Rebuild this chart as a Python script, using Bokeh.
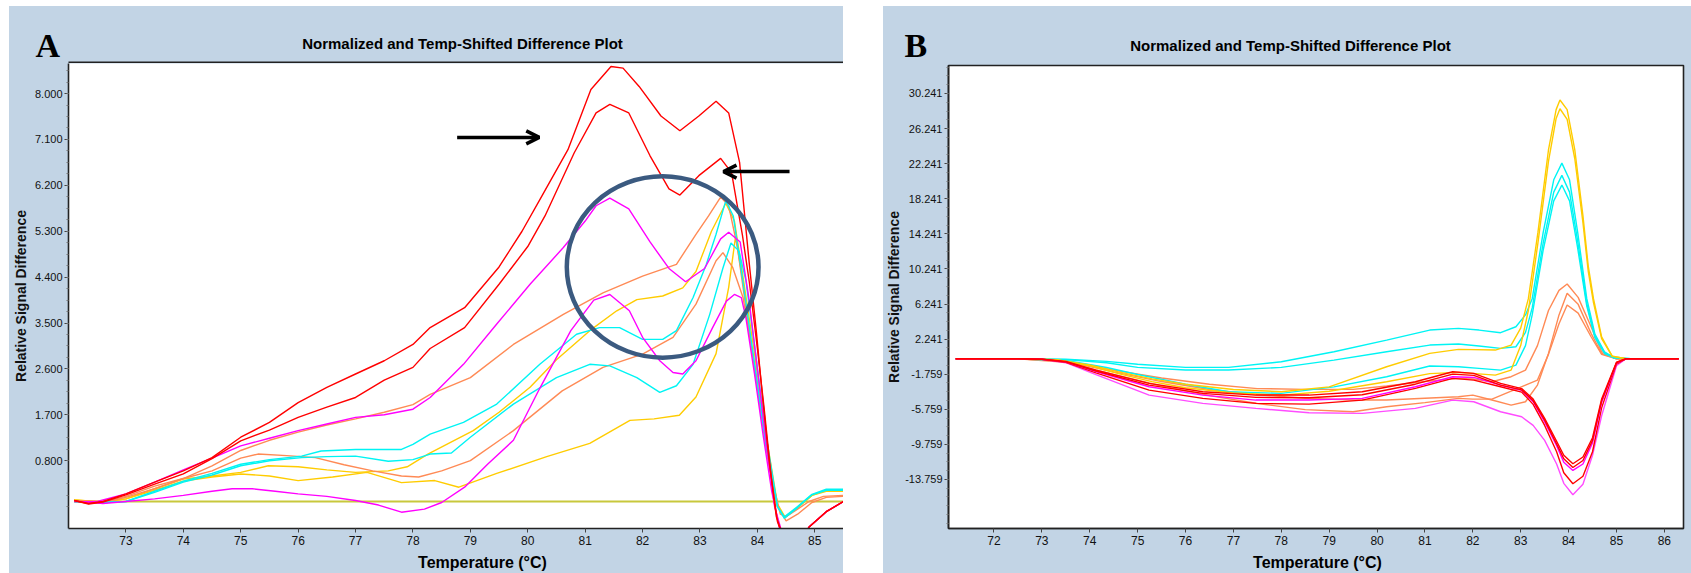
from bokeh.plotting import figure
from bokeh.layouts import row, column
from bokeh.models import (Spacer, FixedTicker, PrintfTickFormatter, Range1d, Arrow, OpenHead)
from bokeh.core.properties import value
from bokeh.embed import file_html
from bokeh.resources import INLINE

TITLE = "Normalized and Temp-Shifted Difference Plot"
XLABEL = "Temperature (°C)"
YLABEL = "Relative Signal Difference"

# ---------------- Panel A data ----------------
A_XTICKS = [73, 74, 75, 76, 77, 78, 79, 80, 81, 82, 83, 84, 85]
A_YTICKS = [0.8, 1.7, 2.6, 3.5, 4.4, 5.3, 6.2, 7.1, 8.0]

A_BASE_X = [72.1, 85.5]
A_BASE_Y = [0.0, 0.0]

A_R1_X = [72.1, 72.35, 72.6, 73.0, 73.5, 74.0, 74.5, 75.0, 75.5, 76.0, 76.5, 77.0, 77.5, 78.0, 78.3, 78.9,
          79.5, 79.9, 80.25, 80.7, 81.1, 81.45, 81.66, 81.94, 82.32, 82.65, 82.98, 83.28, 83.5, 83.69,
          83.86, 83.98, 84.09, 84.21, 84.33, 84.45, 84.6, 84.8, 84.9, 85.2, 85.5]
A_R1_Y = [0.02, -0.04, 0.0, 0.15, 0.38, 0.60, 0.86, 1.26, 1.55, 1.94, 2.24, 2.50, 2.76, 3.08, 3.41, 3.80,
          4.6, 5.3, 6.0, 6.9, 8.08, 8.53, 8.5, 8.14, 7.56, 7.27, 7.56, 7.85, 7.62, 6.65,
          4.65, 3.35, 2.04, 0.74, -0.3, -0.7, -0.85, -0.7, -0.5, -0.2, 0.0]

A_R2_X = [72.1, 72.35, 72.6, 73.0, 73.5, 74.0, 74.5, 75.0, 75.5, 76.0, 76.5, 77.0, 77.5, 78.0, 78.3, 78.9,
          79.5, 80.0, 80.3, 80.81, 81.19, 81.43, 81.76, 82.13, 82.46, 82.65, 82.98, 83.36, 83.55, 83.74,
          83.86, 84.0, 84.12, 84.24, 84.35, 84.45, 84.6, 84.8, 84.9, 85.2, 85.5]
A_R2_Y = [0.02, -0.05, -0.01, 0.13, 0.34, 0.54, 0.84, 1.19, 1.40, 1.65, 1.85, 2.04, 2.38, 2.63, 3.0, 3.41,
          4.26, 5.0, 5.6, 6.84, 7.62, 7.79, 7.62, 6.78, 6.13, 6.01, 6.39, 6.73, 6.45, 5.22,
          4.3, 3.0, 1.8, 0.5, -0.4, -0.7, -0.85, -0.7, -0.5, -0.2, 0.0]

A_M1_X = [72.1, 72.5, 73.0, 73.5, 74.0, 74.5, 75.0, 75.5, 76.0, 76.5, 77.0, 77.5, 78.0, 78.3, 78.88, 79.46,
          80.04, 80.62, 81.0, 81.19, 81.43, 81.76, 82.13, 82.46, 82.75, 83.08, 83.36, 83.5, 83.7, 83.85,
          84.0, 84.15, 84.3, 84.45, 84.6, 84.8, 84.9, 85.2, 85.5]
A_M1_Y = [0.0, 0.0, 0.15, 0.38, 0.62, 0.85, 1.09, 1.24, 1.39, 1.52, 1.65, 1.70, 1.81, 2.04, 2.69, 3.48,
          4.26, 4.98, 5.5, 5.80, 5.95, 5.74, 5.09, 4.57, 4.31, 4.57, 5.15, 5.28, 5.09, 4.0,
          2.6, 1.2, -0.1, -0.7, -0.85, -0.7, -0.5, -0.2, 0.0]

A_M2_X = [72.2, 72.6, 73.0, 73.5, 74.0, 74.5, 74.85, 75.2, 75.6, 76.0, 76.5, 77.0, 77.4, 77.8, 78.2, 78.5,
          78.9, 79.3, 79.75, 80.2, 80.75, 81.15, 81.43, 81.77, 82.0, 82.3, 82.53, 82.7, 82.93, 83.22,
          83.46, 83.6, 83.72, 83.8, 83.95, 84.1, 84.25, 84.4, 84.6, 84.8, 84.9, 85.2, 85.5]
A_M2_Y = [0.0, -0.04, 0.0, 0.05, 0.12, 0.2, 0.25, 0.25, 0.2, 0.15, 0.1, 0.02, -0.07, -0.21, -0.15, -0.02,
          0.28, 0.73, 1.2, 2.2, 3.35, 3.95, 4.06, 3.74, 3.22, 2.76, 2.53, 2.5, 2.76, 3.41,
          3.93, 4.06, 4.0, 3.6, 2.5, 1.3, 0.2, -0.6, -0.85, -0.7, -0.5, -0.2, 0.0]

A_O1_X = [72.1, 72.6, 73.0, 73.5, 74.0, 74.5, 75.0, 75.5, 76.0, 76.5, 77.0, 77.5, 78.0, 78.3, 79.0, 79.75,
          80.62, 81.31, 82.0, 82.59, 82.93, 83.15, 83.36, 83.5, 83.65, 83.8, 84.0, 84.2, 84.4, 84.5,
          84.7, 84.9, 85.15, 85.5]
A_O1_Y = [0.0, -0.02, 0.1, 0.3, 0.45, 0.7, 1.0, 1.2, 1.36, 1.5, 1.62, 1.75, 1.9, 2.1, 2.43, 3.08,
          3.67, 4.09, 4.42, 4.65, 5.24, 5.6, 5.97, 5.8, 5.0, 3.8, 2.2, 0.7, -0.25, -0.3,
          -0.15, 0.0, 0.1, 0.12]

A_O2_X = [72.1, 72.6, 73.0, 73.5, 74.0, 74.5, 75.0, 75.3, 75.8, 76.3, 76.8, 77.3, 77.8, 78.1, 78.5, 79.0,
          79.75, 80.6, 81.31, 82.0, 82.53, 82.93, 83.28, 83.4, 83.57, 83.75, 83.95, 84.15, 84.35, 84.5,
          84.7, 84.95, 85.2, 85.5]
A_O2_Y = [0.0, -0.02, 0.08, 0.25, 0.45, 0.6, 0.85, 0.93, 0.9, 0.86, 0.72, 0.6, 0.5, 0.48, 0.6, 0.8,
          1.39, 2.17, 2.63, 2.89, 3.22, 3.87, 4.72, 4.88, 4.59, 4.0, 2.7, 1.2, -0.1, -0.38,
          -0.25, -0.02, 0.08, 0.1]

A_Y1_X = [72.1, 72.6, 73.0, 73.5, 74.0, 74.5, 75.0, 75.48, 76.0, 76.5, 77.0, 77.57, 77.9, 78.26, 79.05, 79.5,
          80.04, 80.5, 81.08, 81.55, 81.9, 82.35, 82.7, 82.93, 83.2, 83.45, 83.6, 83.75, 83.95, 84.15,
          84.35, 84.48, 84.7, 84.95, 85.2, 85.5]
A_Y1_Y = [0.03, -0.01, 0.05, 0.25, 0.44, 0.5, 0.57, 0.70, 0.68, 0.62, 0.57, 0.60, 0.68, 0.93, 1.39, 1.75,
          2.24, 2.78, 3.35, 3.74, 3.96, 4.03, 4.19, 4.51, 5.30, 5.85, 5.5, 4.4, 2.9, 1.3,
          -0.05, -0.3, -0.12, 0.12, 0.22, 0.22]

A_Y2_X = [72.1, 72.6, 73.0, 73.5, 74.0, 74.5, 75.0, 75.5, 76.0, 76.6, 77.2, 77.8, 78.38, 78.8, 79.46, 80.33,
          81.08, 81.78, 82.2, 82.64, 82.93, 83.28, 83.5, 83.62, 83.75, 83.95, 84.15, 84.35, 84.48, 84.7,
          84.95, 85.2, 85.5]
A_Y2_Y = [0.03, -0.01, 0.05, 0.22, 0.40, 0.48, 0.54, 0.50, 0.41, 0.48, 0.57, 0.37, 0.41, 0.28, 0.55, 0.88,
          1.14, 1.59, 1.62, 1.69, 2.05, 2.9, 4.2, 5.2, 4.3, 2.6, 1.1, -0.1, -0.32, -0.12,
          0.12, 0.2, 0.2]

A_C1_X = [72.1, 72.6, 73.0, 73.5, 74.0, 74.5, 75.0, 75.5, 76.06, 76.4, 77.0, 77.8, 78.0, 78.3, 78.88, 79.46,
          80.21, 80.85, 81.25, 81.6, 82.0, 82.35, 82.59, 82.88, 83.11, 83.28, 83.45, 83.58, 83.75, 83.95,
          84.15, 84.35, 84.47, 84.7, 84.95, 85.2, 85.5]
A_C1_Y = [0.0, -0.02, 0.0, 0.2, 0.40, 0.55, 0.73, 0.82, 0.89, 0.99, 1.02, 1.02, 1.12, 1.32, 1.55, 1.91,
          2.69, 3.28, 3.41, 3.41, 3.18, 3.18, 3.35, 4.0, 4.65, 5.24, 5.9, 5.6, 4.3, 2.7,
          1.1, -0.1, -0.33, -0.12, 0.13, 0.22, 0.22]

A_C2_X = [72.1, 72.6, 73.0, 73.5, 74.0, 74.5, 75.0, 75.5, 76.06, 76.5, 77.0, 77.57, 78.0, 78.3, 78.67, 79.0,
          79.75, 80.5, 81.08, 81.43, 81.9, 82.3, 82.59, 82.88, 83.17, 83.4, 83.54, 83.68, 83.8, 83.98,
          84.15, 84.35, 84.47, 84.7, 84.95, 85.2, 85.5]
A_C2_Y = [0.0, -0.02, 0.0, 0.18, 0.38, 0.52, 0.70, 0.80, 0.86, 0.88, 0.89, 0.79, 0.82, 0.93, 0.95, 1.26,
          1.91, 2.43, 2.69, 2.66, 2.43, 2.14, 2.27, 2.69, 3.67, 4.58, 5.07, 4.91, 4.33, 2.8,
          1.3, -0.1, -0.3, -0.1, 0.14, 0.24, 0.24]

# ---------------- Panel B data ----------------
B_XTICKS = [72, 73, 74, 75, 76, 77, 78, 79, 80, 81, 82, 83, 84, 85, 86]
B_YTICKS = [-13.759, -9.759, -5.759, -1.759, 2.241, 6.241, 10.241, 14.241, 18.241, 22.241, 26.241, 30.241]

B_Y_X = [71.2, 72.5, 73.3, 74.0, 74.6, 75.3, 76.0, 77.0, 78.0, 79.0, 80.2, 81.1, 81.7, 82.47, 82.8,
         83.0, 83.16, 83.36, 83.58, 83.74, 83.82, 83.97, 84.13, 84.3, 84.41, 84.52, 84.69, 84.91, 85.2, 86.3]
B_Y1_Y = [0, 0, -0.1, -0.7, -1.5, -2.3, -2.9, -3.5, -3.76, -3.2, -0.91, 0.61, 1.07, 0.99, 1.56,
          3.5, 6.85, 14.4, 23.8, 28.4, 29.5, 28.4, 23.8, 16.3, 10.6, 6.85, 2.5, 0.3, 0, 0]
B_Y2_Y = [0, 0, -0.1, -0.8, -1.7, -2.6, -3.3, -3.9, -4.14, -3.7, -2.62, -1.7, -1.55, -1.86, -1.29,
          1.5, 5.5, 13.2, 22.5, 27.4, 28.5, 27.3, 22.8, 15.5, 10.0, 6.4, 2.3, 0.3, 0, 0]

B_C_X = [71.2, 72.4, 73.5, 74.35, 75.0, 76.0, 76.9, 78.0, 79.1, 80.2, 81.1, 81.7, 82.13, 82.58, 82.9,
         83.1, 83.24, 83.47, 83.69, 83.86, 84.02, 84.19, 84.38, 84.55, 84.75, 84.95, 85.3, 86.3]
B_C1_Y = [0, 0, -0.05, -0.3, -0.62, -0.98, -0.98, -0.34, 0.80, 2.13, 3.27, 3.46, 3.27, 2.97, 3.65,
          5.0, 6.85, 14.4, 20.4, 22.3, 20.4, 14.4, 6.85, 2.8, 0.8, 0.1, 0, 0]
B_C2_Y = [0, 0, -0.1, -0.45, -0.98, -1.29, -1.29, -0.98, -0.15, 0.80, 1.56, 1.68, 1.45, 1.18, 1.37,
          3.0, 5.8, 13.2, 19.0, 20.9, 19.0, 13.4, 6.3, 2.6, 0.7, 0.1, 0, 0]
B_C3_Y = [0, 0, -0.2, -1.0, -1.8, -2.9, -3.76, -3.95, -3.2, -2.05, -0.83, -0.91, -1.1, -1.29, -0.72,
          1.5, 5.0, 12.4, 18.0, 19.8, 18.0, 12.6, 6.0, 2.4, 0.6, 0.1, 0, 0]

B_O_X = [71.2, 72.5, 73.5, 74.5, 75.5, 76.5, 77.5, 78.5, 79.5, 80.2, 81.0, 81.7, 82.0, 82.4, 82.8,
         83.1, 83.35, 83.58, 83.8, 83.97, 84.2, 84.47, 84.69, 85.0, 86.3]
B_O1_Y = [0, 0, -0.3, -1.3, -2.2, -2.9, -3.4, -3.49, -3.49, -3.11, -2.6, -2.24, -2.3, -2.62, -2.05,
          -1.29, 1.5, 5.5, 7.8, 8.52, 7.0, 3.65, 0.80, 0, 0]
B_O2_Y = [0, 0, -0.3, -1.5, -2.6, -3.5, -4.1, -4.5, -4.71, -4.71, -4.5, -4.33, -4.14, -4.7, -5.28,
          -4.9, -3.0, 0.61, 5.0, 7.46, 6.2, 2.89, 0.6, 0, 0]
B_O3_Y = [0, 0, -0.4, -1.8, -3.1, -4.2, -5.1, -5.8, -6.04, -5.47, -5.0, -4.52, -4.6, -4.6, -3.7,
          -3.0, -2.43, 0.5, 4.0, 6.13, 5.2, 2.51, 0.5, 0, 0]

B_R_X = [71.2, 72.5, 73.0, 73.5, 74.13, 75.24, 76.36, 77.47, 78.58, 79.69, 80.8, 81.58, 82.02, 82.58, 83.02,
         83.26, 83.5, 83.75, 83.9, 84.09, 84.3, 84.5, 84.69, 85.0, 85.2, 86.3]
B_R1_Y = [0, 0, -0.05, -0.3, -1.29, -2.81, -3.76, -4.14, -4.14, -3.76, -2.62, -1.48, -1.67, -2.81, -3.4,
          -4.6, -6.8, -9.4, -11.0, -11.97, -11.2, -9.0, -4.6, -0.4, 0, 0]
B_R3_Y = [0, 0, -0.05, -0.35, -1.4, -3.0, -3.95, -4.4, -4.45, -4.1, -2.9, -1.75, -1.9, -3.0, -3.55,
          -4.8, -7.0, -9.7, -11.4, -12.4, -11.6, -9.3, -4.8, -0.45, 0, 0]
B_M1_Y = [0, 0, -0.05, -0.35, -1.45, -3.19, -4.14, -4.71, -4.71, -4.52, -3.19, -2.05, -2.13, -3.0, -3.6,
          -4.9, -7.2, -9.9, -11.8, -12.73, -12.0, -9.6, -5.0, -0.5, 0, 0]
B_R2_Y = [0, 0, -0.05, -0.4, -1.6, -3.57, -4.52, -5.09, -5.17, -4.71, -3.38, -2.24, -2.43, -3.19, -3.8,
          -5.2, -7.6, -10.6, -13.0, -14.25, -13.4, -10.6, -5.6, -0.6, 0, 0]
B_M2_Y = [0, 0, -0.05, -0.45, -1.8, -4.14, -5.09, -5.66, -6.15, -6.23, -5.66, -4.71, -4.9, -6.04, -6.61,
          -7.6, -9.3, -12.0, -14.2, -15.5, -14.3, -11.0, -6.5, -0.8, 0, 0]

# annotations in panel A (data units)
CIRCLE_X, CIRCLE_Y, CIRCLE_W, CIRCLE_H = 82.35, 4.60, 3.34, 3.56
ARROW1 = (78.77, 7.14, 80.2, 7.14)
ARROW2 = (84.56, 6.47, 83.41, 6.47)

# ---------------- styles ----------------
BG = "#C2D4E5"
RED, MAG, MAG2, CYAN, ORANGE, GOLD, OLIVE = "#FF0000", "#FF00FF", "#FF4CFF", "#00F4F4", "#FF8A55", "#FFCC00", "#C8C83C"
SANS = "Liberation Sans"
LW = 1.4


def band(width, height):
    f = figure(width=width, height=height, x_range=Range1d(0, width), y_range=Range1d(0, height),
               min_border=0, x_axis_location=None, y_axis_location=None,
               background_fill_color=BG, border_fill_color=BG, outline_line_color=None,
               toolbar_location=None, output_backend="svg", frame_align=False)
    f.grid.visible = False
    return f


def style(p, xticks, yticks, minor, ylab_standoff):
    p.xgrid.visible = False
    p.ygrid.visible = False
    for ax in (p.xaxis[0], p.yaxis[0]):
        ax.axis_line_color = "#222222"
        ax.axis_line_width = 1.6
        ax.major_tick_line_color = "#444444"
        ax.minor_tick_line_color = "#777777"
        ax.major_tick_out = 4
        ax.major_tick_in = 0
        ax.minor_tick_out = 2
        ax.minor_tick_in = 0
        ax.major_label_text_font = SANS
        ax.major_label_text_color = "#111111"
        ax.major_label_standoff = 3
    p.xaxis[0].ticker = FixedTicker(ticks=xticks)
    p.xaxis[0].major_label_text_font_size = "12px"
    p.xaxis[0].minor_tick_out = 0
    p.yaxis[0].ticker = FixedTicker(ticks=yticks, minor_ticks=minor)
    p.yaxis[0].major_label_text_font_size = "11px"
    p.yaxis[0].major_label_standoff = 2
    p.yaxis[0].formatter = PrintfTickFormatter(format="%.3f")
    p.yaxis[0].axis_label = YLABEL
    p.yaxis[0].axis_label_text_font = SANS
    p.yaxis[0].axis_label_text_font_style = "bold"
    p.yaxis[0].axis_label_text_font_size = "14px"
    p.yaxis[0].axis_label_text_color = "#111111"
    p.yaxis[0].axis_label_standoff = ylab_standoff


def header(width, height, letter, lx, ly, tx, ty, line=None):
    h = band(width, height)
    if line is not None:
        h.line(x=[line[0], line[1]], y=[1, 1], line_color="#222222", line_width=2)
    h.text(x=[lx], y=[ly], text=[letter], text_font=value("Liberation Serif"), text_font_style="bold",
           text_font_size="34px", text_color="#000000", text_align="left", text_baseline="alphabetic")
    h.text(x=[tx], y=[ty], text=[TITLE], text_font=value(SANS), text_font_style="bold",
           text_font_size="15px", text_color="#000000", text_align="center", text_baseline="middle")
    return h


def footer(width, height, cx, cy):
    f = band(width, height)
    f.text(x=[cx], y=[cy], text=[XLABEL], text_font=value(SANS), text_font_style="bold",
           text_font_size="16px", text_color="#000000", text_align="center", text_baseline="middle")
    return f


# ---------------- Panel A ----------------
pA = figure(width=834, height=489, x_range=Range1d(72.0, 85.5), y_range=Range1d(-0.53, 8.59),
            min_border_left=59, min_border_right=0, min_border_top=0, min_border_bottom=24,
            border_fill_color=BG, background_fill_color="white", outline_line_color=None,
            toolbar_location=None, output_backend="svg", frame_align=False)
style(pA, A_XTICKS, A_YTICKS, [0.8 + 0.225 * i for i in range(-4, 36)], 3)

pA.line(A_BASE_X, A_BASE_Y, line_color=OLIVE, line_width=2)
for xs, ys, c in [(A_Y2_X, A_Y2_Y, GOLD), (A_Y1_X, A_Y1_Y, GOLD),
                  (A_O2_X, A_O2_Y, ORANGE), (A_O1_X, A_O1_Y, ORANGE),
                  (A_C2_X, A_C2_Y, CYAN), (A_C1_X, A_C1_Y, CYAN),
                  (A_M2_X, A_M2_Y, MAG), (A_M1_X, A_M1_Y, MAG),
                  (A_R2_X, A_R2_Y, RED), (A_R1_X, A_R1_Y, RED)]:
    pA.line(xs, ys, line_color=c, line_width=LW)

pA.ellipse(x=[CIRCLE_X], y=[CIRCLE_Y], width=[CIRCLE_W], height=[CIRCLE_H],
           fill_color=None, line_color="#3B5A80", line_width=4.5)
for (x0, y0, x1, y1) in (ARROW1, ARROW2):
    pA.add_layout(Arrow(end=OpenHead(size=13, line_width=3.5, line_color="black"),
                        x_start=x0, y_start=y0, x_end=x1, y_end=y1,
                        line_width=3.5, line_color="black"))

hA = header(834, 57, "A", 26, 18, 453, 20, line=(59, 834))
fA = footer(834, 21, 473, 11)

# ---------------- Panel B ----------------
pB = figure(width=808, height=489, x_range=Range1d(71.05, 86.4), y_range=Range1d(-19.35, 33.43),
            min_border_left=61, min_border_right=8, min_border_top=2, min_border_bottom=24,
            border_fill_color=BG, background_fill_color="white", outline_line_color="#222222",
            outline_line_width=1.6, toolbar_location=None, output_backend="svg", frame_align=False)
style(pB, B_XTICKS, B_YTICKS, [-13.759 + i for i in range(-6, 48)], 0)

for xs, ys, c in [(B_O_X, B_O3_Y, ORANGE), (B_O_X, B_O2_Y, ORANGE), (B_O_X, B_O1_Y, ORANGE),
                  (B_C_X, B_C3_Y, CYAN), (B_C_X, B_C2_Y, CYAN), (B_C_X, B_C1_Y, CYAN),
                  (B_Y_X, B_Y2_Y, GOLD), (B_Y_X, B_Y1_Y, GOLD),
                  (B_R_X, B_M2_Y, MAG2), (B_R_X, B_R2_Y, RED), (B_R_X, B_M1_Y, MAG),
                  (B_R_X, B_R3_Y, RED), (B_R_X, B_R1_Y, RED)]:
    pB.line(xs, ys, line_color=c, line_width=LW)

hB = header(808, 57, "B", 21, 18, 407, 18)
fB = footer(808, 21, 434, 11)

panel_style = {"background-color": BG}
white = {"background-color": "white"}
layout = column(Spacer(height=6, styles=white),
                row(Spacer(width=9, styles=white),
                    column(hA, pA, fA, styles=panel_style),
                    Spacer(width=40, styles=white),
                    column(hB, pB, fB, styles=panel_style)),
                styles=white)
open("out.html", "w").write(file_html(layout, INLINE))
